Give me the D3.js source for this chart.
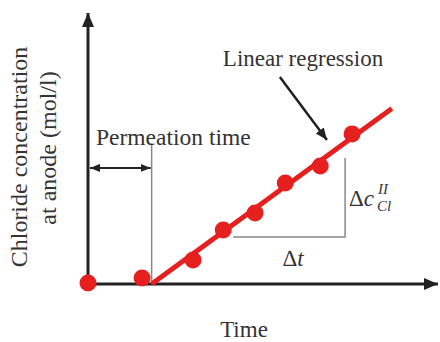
<!DOCTYPE html>
<html>
<head>
<meta charset="utf-8">
<script src="https://cdn.jsdelivr.net/npm/d3@7/dist/d3.min.js"></script>
<style>
  html, body { margin: 0; padding: 0; background: #fff; }
  svg { display: block; }
  text { font-family: "Liberation Serif", "Times New Roman", serif; fill: #333; }
</style>
</head>
<body>
<svg id="chart" width="440" height="342"></svg>
<script>
// Measured chloride concentration at the anode over time
const timeVals = [0, 1.7, 3.3, 4.25, 5.25, 6.2, 7.3, 8.3];
const concVals = [0.04, 0.22, 0.89, 2.0, 2.63, 3.74, 4.37, 5.56];

// Linear regression through the steady-state part
const regressionT = [2.0, 9.55];
const regressionC = [0, 6.5];

// Permeation time (where the regression meets the time axis)
const permeationTime = 2.0;

// Slope triangle (Δt, Δc)
const deltaT = [4.56, 8.08];
const deltaC = [1.74, 4.67];

const xDomain = [0, 11];
const yDomain = [0, 10];

const svg = d3.select("#chart");
const x = d3.scaleLinear().domain(xDomain).range([88, 438]);
const y = d3.scaleLinear().domain(yDomain).range([284, 14]);

const ink = "#222";
const red = "#e5201f";

const defs = svg.append("defs");
function marker(id, len, wid, color) {
  defs.append("marker")
    .attr("id", id)
    .attr("viewBox", `0 0 ${len} ${wid}`)
    .attr("refX", len).attr("refY", wid / 2)
    .attr("markerUnits", "userSpaceOnUse")
    .attr("markerWidth", len).attr("markerHeight", wid)
    .attr("orient", "auto-start-reverse")
    .append("path")
    .attr("d", `M0,0 L${len},${wid / 2} L0,${wid} Z`)
    .attr("fill", color);
}
marker("axisHead", 14, 12, ink);
marker("smallHead", 10, 8, ink);
marker("labelHead", 12, 10, ink);

// Axes with arrowheads
svg.append("line")
  .attr("x1", x(0)).attr("y1", y(0) + 1.5)
  .attr("x2", x(0)).attr("y2", y(yDomain[1]) - 1)
  .attr("stroke", ink).attr("stroke-width", 3)
  .attr("marker-end", "url(#axisHead)");
svg.append("line")
  .attr("x1", x(0) - 1.5).attr("y1", y(0))
  .attr("x2", x(xDomain[1])).attr("y2", y(0))
  .attr("stroke", ink).attr("stroke-width", 3)
  .attr("marker-end", "url(#axisHead)");

// Permeation time guide line and double arrow
svg.append("line")
  .attr("x1", x(permeationTime)).attr("y1", y(0))
  .attr("x2", x(permeationTime)).attr("y2", y(5.2))
  .attr("stroke", "#888").attr("stroke-width", 1.5);
svg.append("line")
  .attr("x1", x(0) + 2).attr("y1", y(4.3))
  .attr("x2", x(permeationTime) - 1).attr("y2", y(4.3))
  .attr("stroke", ink).attr("stroke-width", 2)
  .attr("marker-start", "url(#smallHead)")
  .attr("marker-end", "url(#smallHead)");

// Slope triangle
svg.append("path")
  .attr("d", d3.line()([
    [x(deltaT[0]), y(deltaC[0])],
    [x(deltaT[1]), y(deltaC[0])],
    [x(deltaT[1]), y(deltaC[1])]
  ]))
  .attr("fill", "none").attr("stroke", "#888").attr("stroke-width", 1.5);

// Regression line
svg.append("line")
  .attr("x1", x(regressionT[0])).attr("y1", y(regressionC[0]))
  .attr("x2", x(regressionT[1])).attr("y2", y(regressionC[1]))
  .attr("stroke", red).attr("stroke-width", 5);

// Measured points
svg.selectAll("circle.pt")
  .data(timeVals.map((t, i) => ({ t, c: concVals[i] })))
  .join("circle")
  .attr("class", "pt")
  .attr("cx", d => x(d.t)).attr("cy", d => y(d.c))
  .attr("r", 8.5)
  .attr("fill", red);

// Pointer to the regression line
svg.append("line")
  .attr("x1", x(6.03)).attr("y1", y(7.67))
  .attr("x2", x(7.51)).attr("y2", y(5.33))
  .attr("stroke", ink).attr("stroke-width", 2.5)
  .attr("marker-end", "url(#labelHead)");

// Labels
svg.append("text")
  .attr("x", 303).attr("y", 66)
  .attr("text-anchor", "middle")
  .attr("font-size", 23)
  .text("Linear regression");

svg.append("text")
  .attr("x", 96).attr("y", 145)
  .attr("font-size", 23.5)
  .text("Permeation time");

svg.append("text")
  .attr("x", 244).attr("y", 337)
  .attr("text-anchor", "middle")
  .attr("font-size", 23)
  .text("Time");

const dt = svg.append("text")
  .attr("x", 293).attr("y", 266)
  .attr("text-anchor", "middle")
  .attr("font-size", 23);
dt.append("tspan").text("Δ");
dt.append("tspan").attr("font-style", "italic").text("t");

const dc = svg.append("text")
  .attr("x", 349).attr("y", 206)
  .attr("font-size", 23);
dc.append("tspan").text("Δ");
dc.append("tspan").attr("font-style", "italic").text("c");
dc.append("tspan").attr("x", 378).attr("y", 194)
  .attr("font-size", 15).attr("font-style", "italic").text("II");
dc.append("tspan").attr("x", 377).attr("y", 211)
  .attr("font-size", 15).attr("font-style", "italic").text("Cl");

// Y axis title (two lines)
svg.append("text")
  .attr("transform", "translate(27,157) rotate(-90)")
  .attr("text-anchor", "middle")
  .attr("font-size", 24)
  .text("Chloride concentration");
svg.append("text")
  .attr("transform", "translate(56,148) rotate(-90)")
  .attr("text-anchor", "middle")
  .attr("font-size", 24)
  .text("at anode (mol/l)");
</script>
</body>
</html>
